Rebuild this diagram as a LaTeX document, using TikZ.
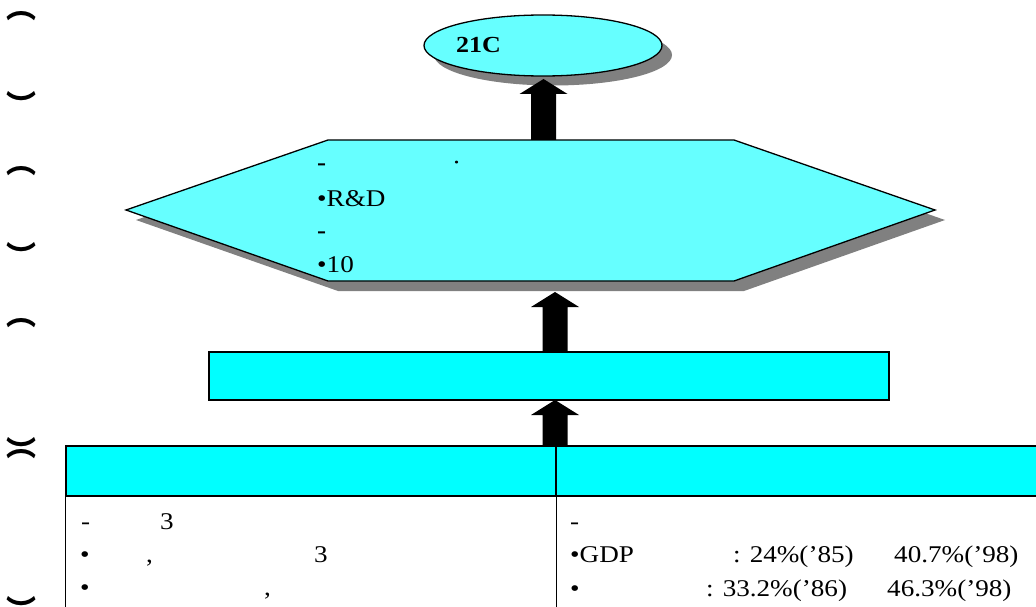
\documentclass[tikz,border=0pt]{standalone}
\usepackage{fontspec}
\setmainfont{Liberation Serif}[FakeStretch=1.13]
\newfontfamily\cjk{Noto Sans CJK KR}
\usetikzlibrary{calc,shapes.geometric}
\definecolor{lcyan}{RGB}{102,255,255}
\definecolor{cyanf}{RGB}{0,255,255}
\definecolor{shad}{RGB}{128,128,128}
\newcommand{\uparr}[2]{%
  \fill[black] let \p1=(#1), \p2=(#2) in
    (\x1-12.5pt,\y1) -- (\x1-12.5pt,\y2-15pt) -- (\x1-24pt,\y2-15pt) -- (\x1,\y2)
    -- (\x1+24pt,\y2-15pt) -- (\x1+12.5pt,\y2-15pt) -- (\x1+12.5pt,\y1) -- cycle;}
\begin{document}
\begin{tikzpicture}[x=1pt,y=-1pt,
  txt/.style={anchor=base west, inner sep=0pt, font=\fontsize{24}{28}\selectfont},
  box/.style={draw=black, line width=1.3pt, fill=cyanf, inner sep=0pt},
  oval/.style={ellipse, minimum width=238pt, minimum height=61pt, inner sep=0pt},
  paren/.style={font=\cjk\bfseries\fontsize{30}{30}\selectfont, inner sep=0pt}]
\useasboundingbox (0,0) rectangle (1036,607);
\clip (0,0) rectangle (1036,607);

% left vertical parentheses
\node[paren] (p1) at (21,16) {︵};
\node[paren] (p2) at (21,104) {︶};
\node[paren] (p3) at (21,171) {︵};
\node[paren] (p4) at (21,255) {︶};
\node[paren] (p5) at (21,323) {︵};
\node[paren] (p6) at (21,450) {︶};
\node[paren] (p7) at (21,454) {︵};
\node[paren] (p8) at (21,609) {︶};

% top ellipse
\node[oval, fill=shad] (ellsh) at (553,55) {};
\node[oval, draw=black, line width=1.3pt, fill=lcyan] (ell) at (543,45.5) {};
\node[txt, font=\bfseries\fontsize{23}{28}\selectfont] (t21) at (456,53) {21C};

% hexagon
\begin{scope}[shift={(10,10)}]
\fill[shad] (126,210) -- (328,140) -- (734,140) -- (935,210) -- (734,281) -- (328,281) -- cycle;
\end{scope}
\draw[line width=1.3pt, fill=lcyan] (126,210) coordinate (hexW) -- (328,140) -- (734,140) -- (935,210) coordinate (hexE) -- (734,281) -- (328,281) -- cycle;
\coordinate (hexT) at (543.5,140);
\coordinate (hexB) at (555,292);
\node[txt, font=\bfseries\fontsize{24}{28}\selectfont] (h1) at (317,171) {-};
\node[txt] (h1b) at (452,171) {·};
\node[txt] (h2) at (317,206) {•R\&D};
\node[txt, font=\bfseries\fontsize{24}{28}\selectfont] (h3) at (317,238) {-};
\node[txt] (h4) at (317,272) {•10};

% middle box
\node[box, minimum width=680pt, minimum height=48pt] (mid) at (549,376) {};

% table
\node[box, minimum width=490pt, minimum height=50pt] (hl) at (311,471) {};
\node[box, minimum width=500pt, minimum height=50pt] (hr) at (806,471) {};
\draw[line width=1.3pt] (hl.south west) -- ++(0,130);
\draw[line width=1.3pt] (hl.south east) -- ++(0,130);

% arrows
\coordinate (a1tip) at (543.5,79);
\coordinate (a2bot) at (555,352);
\coordinate (a3bot) at (555,446);
\coordinate (a3tip) at (555,400);
\uparr{hexT}{a1tip}
\uparr{a2bot}{hexB}
\uparr{a3bot}{a3tip}

% left column text
\node[txt] (l1a) at (81,529) {-};
\node[txt] (l1b) at (160,529) {3};
\node[txt] (l2a) at (80,562) {•};
\node[txt] (l2b) at (146,562) {,};
\node[txt] (l2c) at (314,562) {3};
\node[txt] (l3a) at (80,595) {•};
\node[txt] (l3b) at (264,595) {,};

% right column text
\node[txt] (r1a) at (570,529) {-};
\node[txt] (r2a) at (570,562) {•GDP};
\node[txt] (r2b) at (733,562) {: 24\%(’85)};
\node[txt] (r2c) at (894,562) {40.7\%(’98)};
\node[txt] (r3a) at (570,596) {•};
\node[txt] (r3b) at (706,596) {: 33.2\%(’86)};
\node[txt] (r3c) at (887,596) {46.3\%(’98)};
\end{tikzpicture}
\end{document}
